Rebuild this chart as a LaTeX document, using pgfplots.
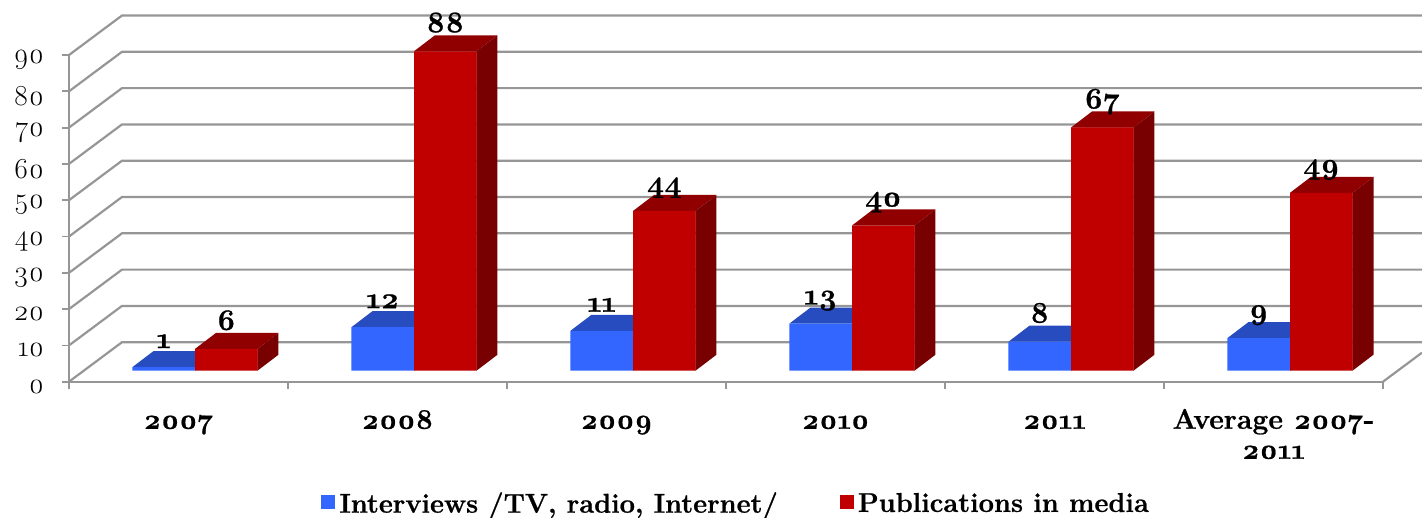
\documentclass[border=0pt]{standalone}
\usepackage{fontspec}
\setmainfont{Latin Modern Roman}[Numbers=OldStyle,BoldFeatures={FakeBold=0.8}]
\usepackage{pgfplots}
\pgfplotsset{compat=1.18}
\usepackage{pgfplotstable}
\definecolor{gridgray}{HTML}{969696}
\definecolor{fblue}{HTML}{3366FF}
\definecolor{tblue}{HTML}{274CBF}
\definecolor{fred}{HTML}{C00000}
\definecolor{tred}{HTML}{900000}
\definecolor{sred}{HTML}{780000}
\pgfplotstableread{
x int pub
0 1 6
1 12 88
2 11 44
3 13 40
4 8 67
5 9 49
}\chartdata
% #1 category, #2 value, #3 left offset, #4 top colour, #5 side colour
\newcommand{\barfaces}[5]{%
  \pgfmathsetmacro\xl{#1+#3}%
  \pgfmathsetmacro\xr{#1+#3+0.2854}%
  \pgfmathsetmacro\xlb{\xl+0.0959}%
  \pgfmathsetmacro\xrb{\xr+0.0959}%
  \pgfmathsetmacro\yt{#2+3.03}%
  \pgfmathsetmacro\ytb{#2+3.03+4.41}%
  \addplot[forget plot,draw=none,fill=#4] coordinates {(\xl,\yt) (\xr,\yt) (\xrb,\ytb) (\xlb,\ytb) (\xl,\yt)};
  \addplot[forget plot,draw=none,fill=#5] coordinates {(\xr,3.03) (\xr,\yt) (\xrb,\ytb) (\xrb,7.44) (\xr,3.03)};
}
% grid line on the front plane value #1
\newcommand{\wall}[1]{%
  \pgfmathsetmacro\yb{#1+10.88}%
  \addplot[forget plot,gridgray,line width=1.1pt] coordinates {(-0.5,#1) (-0.258,\yb) (5.678,\yb)};
}
\begin{document}
\begin{tikzpicture}
\path[use as bounding box] (-34.5pt,-68.15pt) rectangle (676.5pt,190.85pt);
\begin{axis}[
  scale only axis, width=657pt, height=163.35pt,
  xmin=-0.5, xmax=5.5, ymin=0, ymax=90, clip=false,
  axis x line*=bottom, axis y line*=left,
  axis line style={gridgray,line width=1.1pt,-},
  /pgf/number format/assume math mode=true,
  xtick={0,...,5},
  xticklabels={\strut 2007,\strut 2008,\strut 2009,\strut 2010,\strut 2011,{\strut Average 2007-\\\strut 2011}},
  minor xtick={-0.5,0.5,1.5,2.5,3.5,4.5,5.5},
  major x tick style={draw=none},
  minor x tick style={gridgray,line width=0.9pt},
  minor tick length=3.5pt,
  ytick={0,10,...,90},
  yticklabels={0,10,20,30,40,50,60,70,80,90},
  y tick style={gridgray,line width=0.9pt},
  major tick length=3.5pt,
  tick align=outside,
  xticklabel style={font=\fontsize{14.2}{15}\bfseries\selectfont,align=center,anchor=north,yshift=-6pt},
  yticklabel style={font=\fontsize{14.5}{15}\selectfont,anchor=east,xshift=-5.5pt,yshift=-2.5pt},
  legend columns=2,
  legend cell align=left,
  legend style={at={(0.1918,-0.3743)},anchor=west,draw=none,fill=none,inner sep=0pt,
    font=\fontsize{13.6}{16}\bfseries\selectfont,
    /tikz/every even column/.style={column sep=3pt}},
  legend image code/.code={\fill[#1] (0pt,-8.15pt) rectangle (7pt,-1.15pt);},
  every node near coord/.append style={font=\fontsize{15}{15}\bfseries\selectfont,anchor=base,yshift=9.5pt,inner sep=0pt},
]
\wall{0}\wall{10}\wall{20}\wall{30}\wall{40}\wall{50}\wall{60}\wall{70}\wall{80}\wall{90}
\addplot[forget plot,gridgray,line width=1.1pt] coordinates {(5.5,0) (5.678,8)};
% blue depth faces
\barfaces{0}{1}{-0.2100}{tblue}{tblue}
\barfaces{1}{12}{-0.2100}{tblue}{tblue}
\barfaces{2}{11}{-0.2100}{tblue}{tblue}
\barfaces{3}{13}{-0.2100}{tblue}{tblue}
\barfaces{4}{8}{-0.2100}{tblue}{tblue}
\barfaces{5}{9}{-0.2100}{tblue}{tblue}
\addplot[ybar,bar width=31.25pt,bar shift=-7.4pt,yshift=5.5pt,fill=fblue,draw=none,
  every node near coord/.append style={xshift=-7.4pt},
  nodes near coords] table[x=x,y=int] {\chartdata};
\addlegendentry{Interviews /TV, radio, Internet/\hspace*{26pt}\mbox{}}
% red depth faces
\barfaces{0}{6}{0.0753}{tred}{sred}
\barfaces{1}{88}{0.0753}{tred}{sred}
\barfaces{2}{44}{0.0753}{tred}{sred}
\barfaces{3}{40}{0.0753}{tred}{sred}
\barfaces{4}{67}{0.0753}{tred}{sred}
\barfaces{5}{49}{0.0753}{tred}{sred}
\addplot[ybar,bar width=31.25pt,bar shift=23.9pt,yshift=5.5pt,fill=fred,draw=none,
  every node near coord/.append style={xshift=23.9pt},
  nodes near coords] table[x=x,y=pub] {\chartdata};
\addlegendentry{Publications in media}
\end{axis}
\end{tikzpicture}
\end{document}
